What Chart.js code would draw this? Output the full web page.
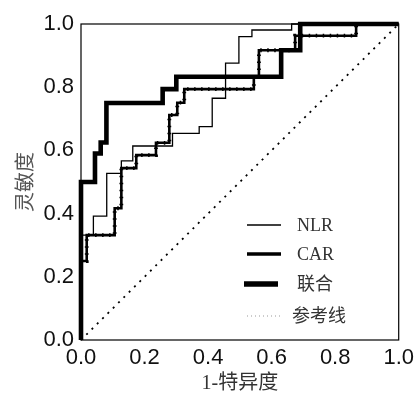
<!DOCTYPE html>
<html>
<head>
<meta charset="utf-8">
<script src="https://cdn.jsdelivr.net/npm/chart.js@4/dist/chart.umd.min.js"></script>
<style>
html,body{margin:0;padding:0;background:#fff;}
#wrap{width:419px;height:402px;position:relative;}
</style>
</head>
<body>
<div id="wrap"><canvas id="c" width="419" height="402"></canvas></div>
<script>
// ---- data ----
const seriesNames = ["NLR", "CAR", "联合", "参考线"];
const nlrX = [0, 0, 0.039, 0.039, 0.081, 0.081, 0.127, 0.127, 0.163, 0.163, 0.288, 0.288, 0.372, 0.372, 0.413, 0.413, 0.455, 0.455, 0.497, 0.497, 0.538, 0.538, 0.663, 0.663, 1];
const nlrY = [0, 0.332, 0.332, 0.392, 0.392, 0.527, 0.527, 0.567, 0.567, 0.614, 0.614, 0.654, 0.654, 0.675, 0.675, 0.765, 0.765, 0.876, 0.876, 0.96, 0.96, 0.981, 0.981, 1, 1];
const carX = [0, 0, 0.018, 0.018, 0.106, 0.106, 0.127, 0.127, 0.174, 0.174, 0.236, 0.236, 0.278, 0.278, 0.303, 0.303, 0.325, 0.325, 0.544, 0.544, 0.56, 0.56, 0.674, 0.674, 0.866, 0.866, 1];
const carY = [0, 0.25, 0.25, 0.332, 0.332, 0.417, 0.417, 0.544, 0.544, 0.585, 0.585, 0.624, 0.624, 0.712, 0.712, 0.751, 0.751, 0.794, 0.794, 0.833, 0.833, 0.917, 0.917, 0.963, 0.963, 1, 1];
const combX = [0, 0, 0.044, 0.044, 0.062, 0.062, 0.08, 0.08, 0.257, 0.257, 0.30, 0.30, 0.63, 0.63, 0.69, 0.69, 1];
const combY = [0, 0.5, 0.5, 0.59, 0.59, 0.625, 0.625, 0.75, 0.75, 0.794, 0.794, 0.833, 0.833, 0.917, 0.917, 1, 1];
const refX = [0, 1];
const refY = [0, 1];
const tickValues = [0, 0.2, 0.4, 0.6, 0.8, 1.0];
const xTitle = "1-特异度";
const yTitle = "灵敏度";

const pts = (xs, ys) => xs.map((x, i) => ({x: x, y: ys[i]}));

const framePlugin = {
  id: 'frame',
  beforeDatasetsDraw(chart) {
    const {ctx, chartArea: a} = chart;
    ctx.save();
    ctx.strokeStyle = '#000';
    ctx.lineWidth = 1.2;
    ctx.strokeRect(a.left, a.top, a.right - a.left, a.bottom - a.top);
    ctx.restore();
  }
};

const carDotsPlugin = {
  id: 'carDots',
  afterDatasetsDraw(chart) {
    const meta = chart.getDatasetMeta(1);
    const ctx = chart.ctx;
    ctx.save();
    ctx.strokeStyle = '#000';
    ctx.lineWidth = 3.8;
    ctx.setLineDash([1.5, 5.5]);
    ctx.beginPath();
    meta.data.forEach((p, i) => { if (i === 0) ctx.moveTo(p.x, p.y); else ctx.lineTo(p.x, p.y); });
    ctx.stroke();
    ctx.restore();
  }
};

const legendPlugin = {
  id: 'inLegend',
  afterDraw(chart) {
    const {ctx, chartArea: a} = chart;
    const rows = [
      {ds: 0, y: 201, x1: 166, x2: 200, tx: 216},
      {ds: 1, y: 230, x1: 166, x2: 200, tx: 216},
      {ds: 2, y: 260, x1: 163, x2: 197, tx: 216},
      {ds: 3, y: 292, x1: 166, x2: 200, tx: 211}
    ];
    ctx.save();
    rows.forEach(r => {
      const d = chart.data.datasets[r.ds];
      ctx.beginPath();
      ctx.strokeStyle = r.ds === 3 ? '#999' : '#000';
      ctx.lineWidth = r.ds === 0 ? 1.5 : r.ds === 1 ? 3.6 : r.ds === 2 ? 5.5 : 1;
      ctx.setLineDash(r.ds === 3 ? [1, 3] : []);
      ctx.moveTo(a.left + r.x1, a.top + r.y);
      ctx.lineTo(a.left + r.x2, a.top + r.y);
      ctx.stroke();
      ctx.setLineDash([]);
      ctx.fillStyle = '#333';
      ctx.font = '18px "Liberation Serif", "Noto Sans CJK SC", serif';
      ctx.textBaseline = 'middle';
      ctx.textAlign = 'left';
      ctx.fillText(d.label, a.left + r.tx, a.top + r.y + 1);
    });
    ctx.restore();
  }
};

new Chart(document.getElementById('c'), {
  type: 'line',
  data: {
    datasets: [
      {label: seriesNames[0], data: pts(nlrX, nlrY), borderColor: '#000', borderWidth: 1.3, pointRadius: 0, borderJoinStyle: 'miter', clip: false, tension: 0},
      {label: seriesNames[1], data: pts(carX, carY), borderColor: '#000', borderWidth: 2.6, pointRadius: 0, borderJoinStyle: 'miter', clip: false, tension: 0},
      {label: seriesNames[2], data: pts(combX, combY), borderColor: '#000', borderWidth: 4.6, pointRadius: 0, borderJoinStyle: 'miter', clip: false, tension: 0},
      {label: seriesNames[3], data: pts(refX, refY), borderColor: '#000', borderWidth: 1.8, borderDash: [2, 5.5], pointRadius: 0, clip: false, tension: 0}
    ]
  },
  options: {
    responsive: false,
    animation: false,
    events: [],
    layout: {padding: {top: 24, right: 18, left: 0, bottom: 0}},
    plugins: {legend: {display: false}, tooltip: {enabled: false}},
    scales: {
      x: {
        type: 'linear', min: 0, max: 1,
        afterBuildTicks: s => { s.ticks = tickValues.map(v => ({value: v})); },
        afterFit: s => { s.height = 62; },
        grid: {display: false, drawTicks: false},
        border: {display: false},
        ticks: {padding: 5, color: '#111', font: {family: '"Liberation Sans", Arial, sans-serif', size: 22}, callback: v => Number(v).toFixed(1), maxRotation: 0},
        title: {display: true, text: xTitle, color: '#333', font: {family: '"Liberation Serif", "Noto Sans CJK SC", serif', size: 20}, padding: {top: 0, bottom: 6}}
      },
      y: {
        type: 'linear', min: 0, max: 1,
        afterBuildTicks: s => { s.ticks = tickValues.map(v => ({value: v})); },
        afterFit: s => { s.width = 81; },
        grid: {display: false, drawTicks: false},
        border: {display: false},
        ticks: {padding: 7, color: '#111', font: {family: '"Liberation Sans", Arial, sans-serif', size: 22}, callback: v => Number(v).toFixed(1)},
        title: {display: true, text: yTitle, color: '#555', font: {family: '"Noto Sans CJK SC", sans-serif', size: 20}, padding: {top: 12, bottom: 0}}
      }
    }
  },
  plugins: [framePlugin, carDotsPlugin, legendPlugin]
});
</script>
</body>
</html>
